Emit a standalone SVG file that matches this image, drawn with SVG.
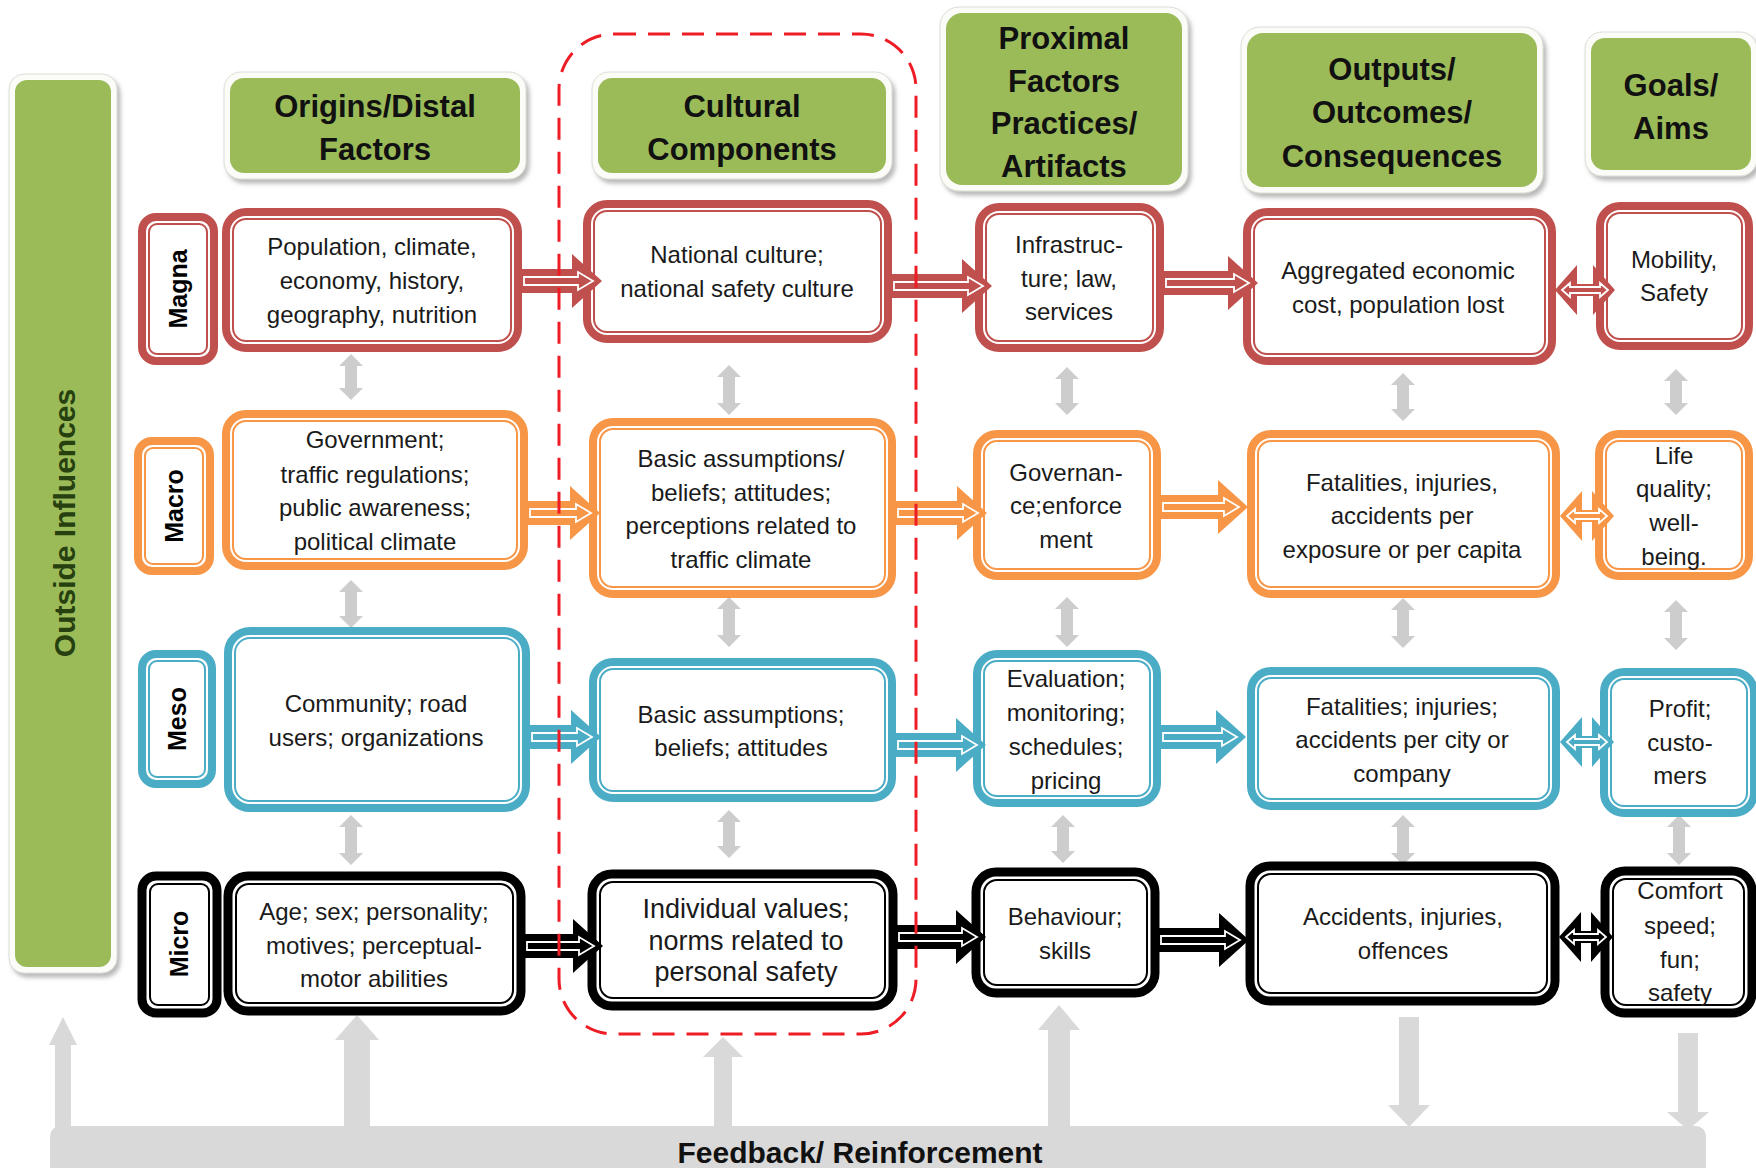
<svg xmlns="http://www.w3.org/2000/svg" width="1756" height="1168" viewBox="0 0 1756 1168">
<defs>
<filter id="sh" x="-10%" y="-10%" width="130%" height="130%"><feDropShadow dx="3" dy="4" stdDeviation="2" flood-color="#7f7f7f" flood-opacity="0.55"/></filter>
<style>
.wb{fill:#fbfbf8;stroke:#dcdcd6;stroke-width:1;filter:url(#sh)}
.gr{fill:#9bbb59}
.ob{fill:#fff;stroke-width:8}
.obk{fill:#fff;stroke-width:9}
.ib{fill:none;stroke-width:2}
.red{stroke:#c0504d}.ora{stroke:#f79646}.blu{stroke:#4bacc6}.blk{stroke:#000}
.fred{fill:#c0504d}.fora{fill:#f79646}.fblu{fill:#4bacc6}.fblk{fill:#000}
.ai{fill:none;stroke:#fff;stroke-width:1.8}
.gv{fill:#cdcdcd}
.fb{fill:#d9d9d9}
.t{font-family:"Liberation Sans",Arial,sans-serif;font-size:24px;fill:#1a1a1a;text-anchor:middle}
.tb{font-family:"Liberation Sans",Arial,sans-serif;font-size:27px;fill:#1a1a1a;text-anchor:middle}
.h{font-family:"Liberation Sans",Arial,sans-serif;font-size:31px;font-weight:bold;fill:#111;text-anchor:middle}
.lb{font-family:"Liberation Sans",Arial,sans-serif;font-size:25px;font-weight:bold;fill:#000;text-anchor:middle}
.oi{font-family:"Liberation Sans",Arial,sans-serif;font-size:30px;font-weight:bold;fill:#26400f;text-anchor:middle}
</style>
</defs>
<rect width="1756" height="1168" fill="#fff"/>

<g id="outside-influences">
<rect class="wb" x="9" y="74" width="108" height="899" rx="15"/>
<rect class="gr" x="15" y="80" width="96" height="887" rx="12"/>
<text class="oi" transform="translate(75,523) rotate(-90)">Outside Influences</text>
</g>

<g id="hdr-origins">
<rect class="wb" x="224" y="72" width="302" height="107" rx="17"/>
<rect class="gr" x="230" y="78" width="290" height="95" rx="14"/>
<text class="h" x="375" y="117">Origins/Distal</text>
<text class="h" x="375" y="160">Factors</text>
</g>
<g id="hdr-cultural">
<rect class="wb" x="592" y="72" width="300" height="107" rx="17"/>
<rect class="gr" x="598" y="78" width="288" height="95" rx="14"/>
<text class="h" x="742" y="117">Cultural</text>
<text class="h" x="742" y="160">Components</text>
</g>
<g id="hdr-proximal">
<rect class="wb" x="940" y="7" width="248" height="184" rx="19"/>
<rect class="gr" x="946" y="13" width="236" height="172" rx="16"/>
<text class="h" x="1064" y="49">Proximal</text>
<text class="h" x="1064" y="92">Factors</text>
<text class="h" x="1064" y="134">Practices/</text>
<text class="h" x="1064" y="177">Artifacts</text>
</g>
<g id="hdr-outputs">
<rect class="wb" x="1241" y="27" width="302" height="166" rx="19"/>
<rect class="gr" x="1247" y="33" width="290" height="154" rx="16"/>
<text class="h" x="1392" y="80">Outputs/</text>
<text class="h" x="1392" y="123">Outcomes/</text>
<text class="h" x="1392" y="167">Consequences</text>
</g>
<g id="hdr-goals">
<rect class="wb" x="1585" y="32" width="172" height="144" rx="17"/>
<rect class="gr" x="1591" y="38" width="160" height="132" rx="14"/>
<text class="h" x="1671" y="96">Goals/</text>
<text class="h" x="1671" y="139">Aims</text>
</g>

<g id="feedback">
<rect class="fb" x="50" y="1126" width="1656" height="60" rx="10"/>
<text class="h" x="860" y="1163" style="font-size:30px">Feedback/ Reinforcement</text>
</g>

<g id="connectors">
<g class="fb">
<path d="M63,1017 L77,1045 H71 V1135 H55 V1045 H49 Z"/>
<path d="M357,1015 L379,1040 H370 V1135 H344 V1040 H335 Z"/>
<path d="M723,1037 L743,1057 H732 V1135 H714 V1057 H703 Z"/>
<path d="M1059,1005 L1080,1030 H1070 V1135 H1048 V1030 H1038 Z"/>
<path d="M1399,1017 H1419 V1105 H1430 L1409,1127 L1388,1105 H1399 Z"/>
<path d="M1678,1033 H1698 V1112 H1709 L1688,1130 L1667,1112 H1678 Z"/>
</g>
<g class="gv">
<path transform="translate(351,377)" d="M0,-23 L12,-11 H6 V11 H12 L0,23 L-12,11 H-6 V-11 H-12 Z"/>
<path transform="translate(351,604)" d="M0,-24 L12,-12 H6 V12 H12 L0,24 L-12,12 H-6 V-12 H-12 Z"/>
<path transform="translate(351,840)" d="M0,-25 L12,-13 H6 V13 H12 L0,25 L-12,13 H-6 V-13 H-12 Z"/>
<path transform="translate(729,390)" d="M0,-25 L12,-13 H6 V13 H12 L0,25 L-12,13 H-6 V-13 H-12 Z"/>
<path transform="translate(729,622)" d="M0,-25 L12,-13 H6 V13 H12 L0,25 L-12,13 H-6 V-13 H-12 Z"/>
<path transform="translate(729,834)" d="M0,-24 L12,-12 H6 V12 H12 L0,24 L-12,12 H-6 V-12 H-12 Z"/>
<path transform="translate(1067,391)" d="M0,-24 L12,-12 H6 V12 H12 L0,24 L-12,12 H-6 V-12 H-12 Z"/>
<path transform="translate(1067,622)" d="M0,-25 L12,-13 H6 V13 H12 L0,25 L-12,13 H-6 V-13 H-12 Z"/>
<path transform="translate(1063,839)" d="M0,-24 L12,-12 H6 V12 H12 L0,24 L-12,12 H-6 V-12 H-12 Z"/>
<path transform="translate(1403,397)" d="M0,-24 L12,-12 H6 V12 H12 L0,24 L-12,12 H-6 V-12 H-12 Z"/>
<path transform="translate(1403,623)" d="M0,-25 L12,-13 H6 V13 H12 L0,25 L-12,13 H-6 V-13 H-12 Z"/>
<path transform="translate(1403,840)" d="M0,-25 L12,-13 H6 V13 H12 L0,25 L-12,13 H-6 V-13 H-12 Z"/>
<path transform="translate(1676,392)" d="M0,-23 L12,-11 H6 V11 H12 L0,23 L-12,11 H-6 V-11 H-12 Z"/>
<path transform="translate(1676,625)" d="M0,-25 L12,-13 H6 V13 H12 L0,25 L-12,13 H-6 V-13 H-12 Z"/>
<path transform="translate(1679,840)" d="M0,-25 L12,-13 H6 V13 H12 L0,25 L-12,13 H-6 V-13 H-12 Z"/>
</g>
</g>

<g id="magna-label"><rect class="ob red" x="142" y="217" width="72" height="144" rx="14"/><rect class="ib red" x="149" y="224" width="58" height="130" rx="8"/><text class="lb" transform="translate(187,289) rotate(-90)">Magna</text></g>
<g id="magna-origins"><rect class="ob red" x="226" y="212" width="292" height="136" rx="20"/><rect class="ib red" x="233" y="219" width="278" height="122" rx="13"/>
<text class="t" x="372" y="255">Population, climate,</text><text class="t" x="372" y="289">economy, history,</text><text class="t" x="372" y="323">geography, nutrition</text></g>
<g id="magna-cultural"><rect class="ob red" x="587" y="204" width="301" height="135" rx="20"/><rect class="ib red" x="594" y="211" width="287" height="121" rx="13"/>
<text class="t" x="737" y="263">National culture;</text><text class="t" x="737" y="297">national safety culture</text></g>
<g id="magna-proximal"><rect class="ob red" x="979" y="207" width="181" height="141" rx="20"/><rect class="ib red" x="986" y="214" width="167" height="127" rx="13"/>
<text class="t" x="1069" y="253">Infrastruc-</text><text class="t" x="1069" y="287">ture; law,</text><text class="t" x="1069" y="320">services</text></g>
<g id="magna-outputs"><rect class="ob red" x="1247" y="212" width="305" height="149" rx="20"/><rect class="ib red" x="1254" y="219" width="291" height="135" rx="13"/>
<text class="t" x="1398" y="279">Aggregated economic</text><text class="t" x="1398" y="313">cost, population lost</text></g>
<g id="magna-goals"><rect class="ob red" x="1600" y="206" width="149" height="140" rx="20"/><rect class="ib red" x="1607" y="213" width="135" height="126" rx="13"/>
<text class="t" x="1674" y="268">Mobility,</text><text class="t" x="1674" y="301">Safety</text></g>

<g id="macro-label"><rect class="ob ora" x="138" y="441" width="72" height="130" rx="14"/><rect class="ib ora" x="145" y="448" width="58" height="116" rx="8"/><text class="lb" transform="translate(183,506) rotate(-90)">Macro</text></g>
<g id="macro-origins"><rect class="ob ora" x="226" y="414" width="298" height="152" rx="20"/><rect class="ib ora" x="233" y="421" width="284" height="138" rx="13"/>
<text class="t" x="375" y="448">Government;</text><text class="t" x="375" y="483">traffic regulations;</text><text class="t" x="375" y="516">public awareness;</text><text class="t" x="375" y="550">political climate</text></g>
<g id="macro-cultural"><rect class="ob ora" x="593" y="422" width="299" height="172" rx="20"/><rect class="ib ora" x="600" y="429" width="285" height="158" rx="13"/>
<text class="t" x="741" y="467">Basic assumptions/</text><text class="t" x="741" y="501">beliefs; attitudes;</text><text class="t" x="741" y="534">perceptions related to</text><text class="t" x="741" y="568">traffic climate</text></g>
<g id="macro-proximal"><rect class="ob ora" x="977" y="434" width="180" height="142" rx="20"/><rect class="ib ora" x="984" y="441" width="166" height="128" rx="13"/>
<text class="t" x="1066" y="481">Governan-</text><text class="t" x="1066" y="514">ce;enforce</text><text class="t" x="1066" y="548">ment</text></g>
<g id="macro-outputs"><rect class="ob ora" x="1251" y="434" width="305" height="160" rx="20"/><rect class="ib ora" x="1258" y="441" width="291" height="146" rx="13"/>
<text class="t" x="1402" y="491">Fatalities, injuries,</text><text class="t" x="1402" y="524">accidents per</text><text class="t" x="1402" y="558">exposure or per capita</text></g>
<g id="macro-goals"><rect class="ob ora" x="1599" y="434" width="150" height="142" rx="20"/><rect class="ib ora" x="1606" y="441" width="136" height="128" rx="13"/>
<text class="t" x="1674" y="464">Life</text><text class="t" x="1674" y="497">quality;</text><text class="t" x="1674" y="531">well-</text><text class="t" x="1674" y="565">being.</text></g>

<g id="meso-label"><rect class="ob blu" x="142" y="654" width="70" height="130" rx="14"/><rect class="ib blu" x="149" y="661" width="56" height="116" rx="8"/><text class="lb" transform="translate(186,719) rotate(-90)">Meso</text></g>
<g id="meso-origins"><rect class="ob blu" x="228" y="631" width="298" height="177" rx="22"/><rect class="ib blu" x="235" y="638" width="284" height="163" rx="15"/>
<text class="t" x="376" y="712">Community; road</text><text class="t" x="376" y="746">users; organizations</text></g>
<g id="meso-cultural"><rect class="ob blu" x="593" y="662" width="299" height="136" rx="20"/><rect class="ib blu" x="600" y="669" width="285" height="122" rx="13"/>
<text class="t" x="741" y="723">Basic assumptions;</text><text class="t" x="741" y="756">beliefs; attitudes</text></g>
<g id="meso-proximal"><rect class="ob blu" x="977" y="654" width="180" height="149" rx="20"/><rect class="ib blu" x="984" y="661" width="166" height="135" rx="13"/>
<text class="t" x="1066" y="687">Evaluation;</text><text class="t" x="1066" y="721">monitoring;</text><text class="t" x="1066" y="755">schedules;</text><text class="t" x="1066" y="789">pricing</text></g>
<g id="meso-outputs"><rect class="ob blu" x="1251" y="671" width="305" height="135" rx="20"/><rect class="ib blu" x="1258" y="678" width="291" height="121" rx="13"/>
<text class="t" x="1402" y="715">Fatalities; injuries;</text><text class="t" x="1402" y="748">accidents per city or</text><text class="t" x="1402" y="782">company</text></g>
<g id="meso-goals"><rect class="ob blu" x="1604" y="672" width="150" height="141" rx="20"/><rect class="ib blu" x="1611" y="679" width="136" height="127" rx="13"/>
<text class="t" x="1680" y="717">Profit;</text><text class="t" x="1680" y="751">custo-</text><text class="t" x="1680" y="784">mers</text></g>

<g id="micro-label"><rect class="obk blk" x="142" y="876" width="75" height="137" rx="14"/><rect class="ib blk" x="150" y="884" width="59" height="121" rx="8"/><text class="lb" transform="translate(188,944) rotate(-90)">Micro</text></g>
<g id="micro-origins"><rect class="obk blk" x="228" y="876" width="293" height="135" rx="20"/><rect class="ib blk" x="236" y="884" width="277" height="119" rx="13"/>
<text class="t" x="374" y="920">Age; sex; personality;</text><text class="t" x="374" y="954">motives; perceptual-</text><text class="t" x="374" y="987">motor abilities</text></g>
<g id="micro-cultural"><rect class="obk blk" x="592" y="874" width="301" height="132" rx="20"/><rect class="ib blk" x="600" y="882" width="285" height="116" rx="13"/>
<text class="tb" x="746" y="918">Individual values;</text><text class="tb" x="746" y="950">norms related to</text><text class="tb" x="746" y="981">personal safety</text></g>
<g id="micro-proximal"><rect class="obk blk" x="976" y="872" width="179" height="121" rx="20"/><rect class="ib blk" x="984" y="880" width="163" height="105" rx="13"/>
<text class="t" x="1065" y="925">Behaviour;</text><text class="t" x="1065" y="959">skills</text></g>
<g id="micro-outputs"><rect class="obk blk" x="1250" y="866" width="305" height="135" rx="20"/><rect class="ib blk" x="1258" y="874" width="289" height="119" rx="13"/>
<text class="t" x="1403" y="925">Accidents, injuries,</text><text class="t" x="1403" y="959">offences</text></g>
<g id="micro-goals"><rect class="obk blk" x="1605" y="871" width="147" height="142" rx="20"/><rect class="ib blk" x="1613" y="879" width="131" height="126" rx="13"/>
<text class="t" x="1680" y="899">Comfort</text><text class="t" x="1680" y="934">speed;</text><text class="t" x="1680" y="968">fun;</text><text class="t" x="1680" y="1001">safety</text></g>

<g id="connectors-horizontal">
<g class="fred">
<g transform="translate(602,281)"><path d="M-82,-12 H-30 V-27 L0,0 L-30,27 V12 H-82 Z"/><path class="ai" d="M-78,-4 H-24 V-9 L-9,0 L-24,9 V4 H-78 Z"/></g>
<g transform="translate(992,286)"><path d="M-102,-12 H-30 V-27 L0,0 L-30,27 V12 H-102 Z"/><path class="ai" d="M-98,-4 H-24 V-9 L-9,0 L-24,9 V4 H-98 Z"/></g>
<g transform="translate(1258,283)"><path d="M-96,-12 H-30 V-27 L0,0 L-30,27 V12 H-96 Z"/><path class="ai" d="M-92,-4 H-24 V-9 L-9,0 L-24,9 V4 H-92 Z"/></g>
<g transform="translate(1585,290)"><path d="M-30,0 L-8,-25 V-6 H8 V-25 L30,0 L8,25 V6 H-8 V25 Z"/><path class="ai" d="M-23,0 L-15,-7 V-3 H15 V-7 L23,0 L15,7 V3 H-15 V7 Z"/></g>
</g>
<g class="fora">
<g transform="translate(600,513)"><path d="M-74,-12 H-30 V-27 L0,0 L-30,27 V12 H-74 Z"/><path class="ai" d="M-70,-4 H-24 V-9 L-9,0 L-24,9 V4 H-70 Z"/></g>
<g transform="translate(987,513)"><path d="M-93,-12 H-30 V-27 L0,0 L-30,27 V12 H-93 Z"/><path class="ai" d="M-89,-4 H-24 V-9 L-9,0 L-24,9 V4 H-89 Z"/></g>
<g transform="translate(1248,507)"><path d="M-89,-12 H-30 V-27 L0,0 L-30,27 V12 H-89 Z"/><path class="ai" d="M-85,-4 H-24 V-9 L-9,0 L-24,9 V4 H-85 Z"/></g>
<g transform="translate(1587,516)"><path d="M-27,0 L-5,-25 V-6 H5 V-25 L27,0 L5,25 V6 H-5 V25 Z"/><path class="ai" d="M-20,0 L-12,-7 V-3 H12 V-7 L20,0 L12,7 V3 H-12 V7 Z"/></g>
</g>
<g class="fblu">
<g transform="translate(601,737)"><path d="M-73,-12 H-30 V-27 L0,0 L-30,27 V12 H-73 Z"/><path class="ai" d="M-69,-4 H-24 V-9 L-9,0 L-24,9 V4 H-69 Z"/></g>
<g transform="translate(986,745)"><path d="M-92,-12 H-30 V-27 L0,0 L-30,27 V12 H-92 Z"/><path class="ai" d="M-88,-4 H-24 V-9 L-9,0 L-24,9 V4 H-88 Z"/></g>
<g transform="translate(1246,737)"><path d="M-87,-12 H-30 V-27 L0,0 L-30,27 V12 H-87 Z"/><path class="ai" d="M-83,-4 H-24 V-9 L-9,0 L-24,9 V4 H-83 Z"/></g>
<g transform="translate(1587,742)"><path d="M-27,0 L-5,-25 V-6 H5 V-25 L27,0 L5,25 V6 H-5 V25 Z"/><path class="ai" d="M-20,0 L-12,-7 V-3 H12 V-7 L20,0 L12,7 V3 H-12 V7 Z"/></g>
</g>
<g class="fblk">
<g transform="translate(603,946)"><path d="M-80,-12 H-30 V-27 L0,0 L-30,27 V12 H-80 Z"/><path class="ai" d="M-76,-4 H-24 V-9 L-9,0 L-24,9 V4 H-76 Z"/></g>
<g transform="translate(986,937)"><path d="M-91,-12 H-30 V-27 L0,0 L-30,27 V12 H-91 Z"/><path class="ai" d="M-87,-4 H-24 V-9 L-9,0 L-24,9 V4 H-87 Z"/></g>
<g transform="translate(1249,940)"><path d="M-92,-12 H-30 V-27 L0,0 L-30,27 V12 H-92 Z"/><path class="ai" d="M-88,-4 H-24 V-9 L-9,0 L-24,9 V4 H-88 Z"/></g>
<g transform="translate(1586,937)"><path d="M-27,0 L-5,-25 V-6 H5 V-25 L27,0 L5,25 V6 H-5 V25 Z"/><path class="ai" d="M-20,0 L-12,-7 V-3 H12 V-7 L20,0 L12,7 V3 H-12 V7 Z"/></g>
</g>
</g>

<g id="cultural-boundary">
<rect x="559" y="34" width="357" height="1000" rx="55" fill="none" stroke="#ee1c25" stroke-width="3" stroke-dasharray="22 12"/>
</g>
</svg>
